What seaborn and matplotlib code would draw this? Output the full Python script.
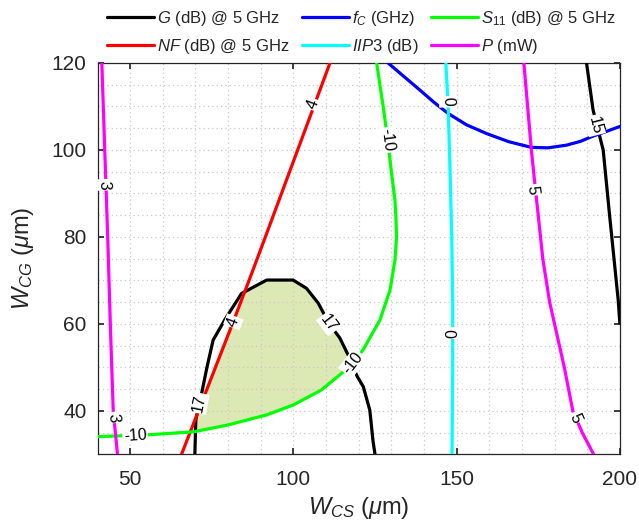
import numpy as np
import matplotlib
matplotlib.use("Agg")
import matplotlib.pyplot as plt
from matplotlib.lines import Line2D
from matplotlib.ticker import MultipleLocator
import seaborn as sns

# contour traces (W_CS, W_CG in um)
g17_x = [69.8, 70.1, 71.9, 73.5, 75.4, 79.0, 84.1, 91.8, 99.9, 104.0, 107.6, 111.0, 114.2, 117.0, 119.5, 121.4, 123.4, 124.4, 125.0]
g17_y = [30.0, 38.0, 44.1, 50.0, 56.3, 61.0, 67.0, 70.1, 70.1, 68.2, 64.8, 60.0, 56.8, 52.5, 48.0, 45.6, 40.2, 33.0, 30.0]
g15_x = [189.8, 191.8, 194.9, 196.9, 199.5, 200.0]
g15_y = [120.0, 109.2, 100.0, 84.7, 65.5, 60.2]

nf4_x = [65.7, 73.5, 81.3, 86.4, 91.4, 101.3, 111.2]
nf4_y = [30.0, 45.0, 60.0, 70.0, 80.0, 100.0, 120.0]

fc_x = [129.0, 134.0, 138.7, 143.0, 147.4, 153.0, 159.1, 166.0, 172.9, 178.0, 183.6, 188.0, 191.8, 196.0, 200.0]
fc_y = [120.0, 116.8, 113.8, 111.0, 108.4, 105.8, 103.8, 101.9, 100.6, 100.5, 101.1, 102.0, 103.2, 104.3, 105.4]

iip3_x = [146.7, 147.4, 148.0, 148.5, 148.8, 148.8, 148.6]
iip3_y = [120.0, 110.0, 95.0, 80.0, 65.0, 50.0, 30.0]

s11_x = [40.0, 55.0, 69.3, 80.0, 91.8, 100.0, 108.5, 114.2, 118.2, 121.3, 126.5, 129.6, 131.1, 131.6, 131.4, 131.1, 130.0, 128.9, 127.5, 125.5]
s11_y = [34.1, 34.5, 35.2, 36.8, 39.1, 41.4, 44.8, 48.3, 51.0, 54.0, 60.9, 67.8, 74.7, 80.0, 84.5, 88.5, 95.0, 102.3, 110.0, 120.0]

p3_x = [41.3, 42.2, 43.1, 43.9, 44.8, 46.1]
p3_y = [120.0, 100.0, 80.0, 60.0, 40.0, 30.0]
p5_x = [170.6, 172.9, 174.0, 175.0, 176.4, 178.5, 180.0, 183.0, 185.6, 188.5, 192.0]
p5_y = [120.0, 100.0, 92.0, 85.0, 75.0, 65.0, 60.0, 50.0, 40.0, 35.0, 30.0]

sns.set_theme(style="ticks")
plt.rcParams['font.family'] = ['Liberation Sans', 'DejaVu Sans']
plt.rcParams['mathtext.fontset'] = 'custom'
plt.rcParams['mathtext.rm'] = 'Liberation Sans'
plt.rcParams['mathtext.it'] = 'Liberation Sans:italic'

fig, ax = plt.subplots(figsize=(6.39, 5.32), dpi=100)
fig.subplots_adjust(left=0.1527, right=0.970, bottom=0.1457, top=0.8816)
ax.set_xlim(40, 200)
ax.set_ylim(30, 120)

LW = 2.3
curves = [
    (g17_x, g17_y, 'black'),
    (g15_x, g15_y, 'black'),
    (nf4_x, nf4_y, 'red'),
    (fc_x, fc_y, 'blue'),
    (iip3_x, iip3_y, 'cyan'),
    (s11_x, s11_y, '#00ff00'),
    (p3_x, p3_y, 'magenta'),
    (p5_x, p5_y, 'magenta'),
]
for xs, ys, c in curves:
    sns.lineplot(x=xs, y=ys, sort=False, estimator=None, color=c, lw=LW, ax=ax, zorder=3)

# feasible region: above S11 = -10, below NF = 4 and inside G = 17
xx = np.linspace(65, 126, 800)
upper = np.minimum(np.interp(xx, nf4_x, nf4_y), np.interp(xx, g17_x, g17_y))
lower = np.interp(xx, s11_x[:14], s11_y[:14])
ax.fill_between(xx, lower, upper, where=upper > lower, color='#dde9b5', lw=0, zorder=1)


def clabel(xs, ys, x0, y0, txt):
    pts = ax.transData.transform(np.column_stack([xs, ys]))
    p0 = ax.transData.transform((x0, y0))
    i = np.argmin(np.hypot(*(pts - p0).T))
    j = i + 1 if i + 1 < len(pts) else i - 1
    d = pts[max(i, j)] - pts[min(i, j)]
    ang = np.degrees(np.arctan2(d[1], d[0]))
    if ang > 90:
        ang -= 180
    elif ang <= -90:
        ang += 180
    ax.text(x0, y0, txt, rotation=ang, ha='center', va='center', fontsize=11.5,
            color='black', zorder=5,
            bbox=dict(boxstyle='square,pad=0.08', fc='white', ec='none'))


clabel(p3_x, p3_y, 42.0, 92.0, '3')
clabel(p3_x, p3_y, 44.9, 38.5, '3')
clabel(p5_x, p5_y, 173.3, 90.8, '5')
clabel(p5_x, p5_y, 186.2, 38.4, '5')
clabel(nf4_x, nf4_y, 106.0, 110.5, '4')
clabel(nf4_x, nf4_y, 81.6, 60.5, '4')
clabel(s11_x, s11_y, 51.5, 34.4, '-10')
clabel(s11_x, s11_y, 128.9, 102.3, '-10')
clabel(s11_x, s11_y, 118.2, 51.0, '-10')
clabel(iip3_x, iip3_y, 147.3, 111.1, '0')
clabel(iip3_x, iip3_y, 148.8, 57.9, '0')
clabel(g17_x, g17_y, 71.1, 41.8, '17')
clabel(g17_x, g17_y, 110.9, 60.2, '17')
clabel(g15_x, g15_y, 192.4, 105.7, '15')

ax.xaxis.set_major_locator(MultipleLocator(50))
ax.xaxis.set_minor_locator(MultipleLocator(10))
ax.yaxis.set_major_locator(MultipleLocator(20))
ax.yaxis.set_minor_locator(MultipleLocator(5))
ax.set_axisbelow('line')
ax.grid(True, which='both', linestyle=(0, (1, 2.5)), color='#c8c8c8', lw=0.9)
ax.tick_params(which='major', direction='in', top=True, right=True, length=4,
               labelsize=15, colors='#262626')
ax.tick_params(axis='x', pad=11.5)
ax.tick_params(axis='y', pad=8)
ax.tick_params(which='minor', length=0)
for sp in ax.spines.values():
    sp.set_color('#262626')
    sp.set_linewidth(0.9)

ax.set_xlabel(r'$W_{CS}$ ($\mu$m)', fontsize=17, color='#262626', labelpad=4)
ax.set_ylabel(r'$W_{CG}$ ($\mu$m)', fontsize=17, color='#262626', labelpad=11)

handles = [
    Line2D([], [], color='black', lw=LW),
    Line2D([], [], color='red', lw=LW),
    Line2D([], [], color='blue', lw=LW),
    Line2D([], [], color='cyan', lw=LW),
    Line2D([], [], color='#00ff00', lw=LW),
    Line2D([], [], color='magenta', lw=LW),
]
labels = [
    r'$G$ (dB) @ 5 GHz',
    r'$NF$ (dB) @ 5 GHz',
    r'$f_C$ (GHz)',
    r'$\mathit{IIP3}$ (dB)',
    r'$S_{11}$ (dB) @ 5 GHz',
    r'$P$ (mW)',
]
fig.legend(handles, labels, ncol=3, loc='upper left', bbox_to_anchor=(0.163, 0.989),
           frameon=False, fontsize=12, handlelength=2.82, handletextpad=0.18,
           columnspacing=0.72, labelspacing=0.53, borderpad=0.2, borderaxespad=0.0)

fig.savefig('out.png', dpi=100)
